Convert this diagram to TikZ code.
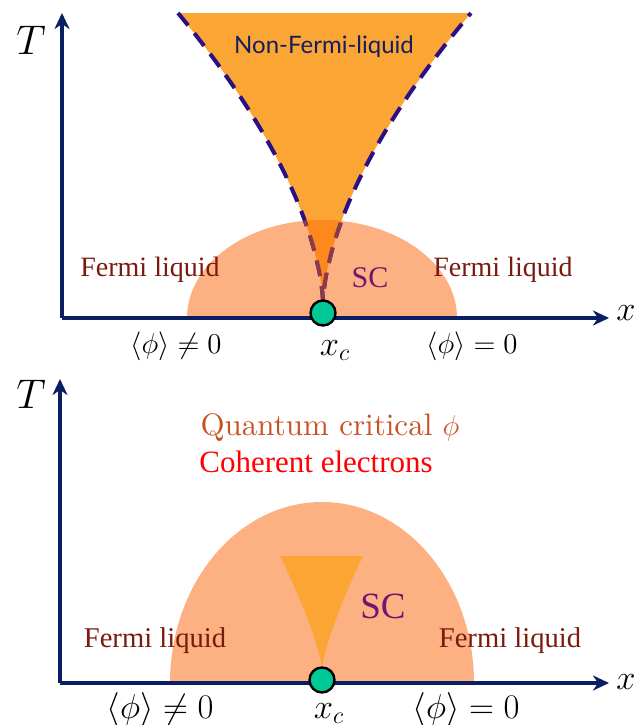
\documentclass[tikz,border=0pt]{standalone}
\usepackage{fontspec}
\newfontfamily\tnr{Liberation Serif}
\newfontfamily\nflsans{Lato}
\newfontfamily\lmten{lmroman10-regular}[Extension=.otf]
\usetikzlibrary{arrows.meta}
\usepackage{xcolor}

\definecolor{axisnavy}{RGB}{10,30,100}
\definecolor{nflorange}{RGB}{250,165,52}
\definecolor{domesalmon}{RGB}{253,177,130}
\definecolor{overlaporange}{RGB}{253,137,30}
\definecolor{dashindigo}{RGB}{42,15,133}
\definecolor{dashbrown}{RGB}{140,58,74}
\definecolor{qcpgreen}{RGB}{0,200,150}
\definecolor{flred}{RGB}{122,26,14}
\definecolor{scpurple}{RGB}{110,22,112}
\definecolor{qcbrown}{RGB}{200,82,34}
\definecolor{nflnavy}{RGB}{20,30,90}

\begin{document}
\begin{tikzpicture}[
    x=0.5pt, y=-0.5pt,
    axis/.style={line width=2pt, axisnavy, -{Stealth[length=8pt,width=7.5pt,inset=2.5pt]}},
    nfldash/.style={line width=2pt, dash pattern=on 8pt off 5pt},
    qcp/.style={circle, draw=black, line width=1.2pt, fill=qcpgreen, minimum size=12.5pt, inner sep=0pt},
    fermi/.style={text=flred, anchor=base, font=\tnr\fontsize{14}{16}\selectfont},
    sclabel/.style={text=scpurple, anchor=base},
    axlabel/.style={font=\fontsize{21}{23}\selectfont},
    phaselabel/.style={anchor=base, font=\fontsize{15}{17}\selectfont},
  ]
  \useasboundingbox (0,0) rectangle (636,725);

  % ========= TOP: NON-FERMI-LIQUID =========
  \coordinate (originA) at (62,318);
  \coordinate (ytipA) at (62,13);
  \coordinate (xtipA) at (609,318);

  % SC dome
  \fill[domesalmon] (187,318) arc[start angle=180, end angle=360, x radius=135, y radius=98] -- cycle;

  % Non-Fermi-liquid fan
  \fill[nflorange] (323,303)
    -- plot[domain=0.01:1, samples=40] ({323-145*\x^1.65}, {303-290*\x})
    -- plot[domain=1:0.01, samples=40] ({323+148*\x^1.65}, {303-290*\x}) -- cycle;
  \draw[nfldash, dashindigo]
    plot[domain=1:0.01, samples=40] ({323-145*\x^1.65}, {303-290*\x})
    -- plot[domain=0.01:1, samples=40] ({323+148*\x^1.65}, {303-290*\x});

  % overlap of fan and dome
  \begin{scope}
    \clip (187,318) arc[start angle=180, end angle=360, x radius=135, y radius=98] -- cycle;
    \fill[overlaporange] (323,303)
      -- plot[domain=0.01:1, samples=40] ({323-145*\x^1.65}, {303-290*\x})
      -- plot[domain=1:0.01, samples=40] ({323+148*\x^1.65}, {303-290*\x}) -- cycle;
    \draw[nfldash, dashbrown]
      plot[domain=1:0.01, samples=40] ({323-145*\x^1.65}, {303-290*\x})
      -- plot[domain=0.01:1, samples=40] ({323+148*\x^1.65}, {303-290*\x});
  \end{scope}

  % axes
  \draw[axis] (originA) -- (ytipA);
  \draw[axis] (originA) -- (xtipA);
  \node[qcp] (qcpA) at (323,313) {};

  \node[axlabel] (TA) at (31,40) {$T$};
  \node[axlabel, font=\fontsize{19}{21}\selectfont] (xA) at (626,313) {$x$};
  \node[text=nflnavy, font=\nflsans\fontsize{12}{14}\selectfont] (nflA) at (324,47) {Non-Fermi-liquid};
  \node[fermi] (flleftA) at (150,276) {Fermi liquid};
  \node[fermi] (flrightA) at (503,276) {Fermi liquid};
  \node[sclabel, font=\tnr\fontsize{15}{17}\selectfont] (scA) at (370,287) {SC};
  \node[phaselabel] (orderA) at (176,353) {$\langle\phi\rangle \neq 0$};
  \node[phaselabel, font=\fontsize{18}{20}\selectfont] (xcA) at (335,355) {$x_c$};
  \node[phaselabel] (disorderA) at (472,353) {$\langle\phi\rangle = 0$};

  % ========= BOTTOM: QUANTUM CRITICAL =========
  \coordinate (originB) at (60,683);
  \coordinate (ytipB) at (60,379);
  \coordinate (xtipB) at (609,683);

  % SC dome
  \fill[domesalmon] (170,683) arc[start angle=180, end angle=360, x radius=152, y radius=181] -- cycle;

  % SC fan
  \fill[nflorange] (322,668)
    -- plot[domain=0.01:1, samples=40] ({322-42*\x^1.3}, {668-112*\x})
    -- plot[domain=1:0.01, samples=40] ({322+41*\x^1.3}, {668-112*\x}) -- cycle;

  % axes
  \draw[axis] (originB) -- (ytipB);
  \draw[axis] (originB) -- (xtipB);
  \node[qcp] (qcpB) at (322,680) {};

  \node[axlabel] (TB) at (31,394) {$T$};
  \node[axlabel, font=\fontsize{19}{21}\selectfont] (xB) at (626,682) {$x$};
  \node[anchor=base, text=qcbrown, font=\lmten\fontsize{15.5}{18}\selectfont] (qcB) at (330,435) {Quantum critical $\phi$};
  \node[anchor=base, text=red, font=\tnr\fontsize{15.5}{18}\selectfont] (cohB) at (316,472) {Coherent electrons};
  \node[sclabel, font=\tnr\fontsize{18.5}{20}\selectfont] (scB) at (383,618) {SC};
  \node[fermi, font=\tnr\fontsize{14.3}{16}\selectfont] (flleftB) at (155,647) {Fermi liquid};
  \node[fermi, font=\tnr\fontsize{14.3}{16}\selectfont] (flrightB) at (510,647) {Fermi liquid};
  \node[phaselabel, font=\fontsize{16}{18}\selectfont] (orderB) at (160,718) {$\langle\phi\rangle \neq 0$};
  \node[phaselabel, font=\fontsize{18}{20}\selectfont] (xcB) at (329,718) {$x_c$};
  \node[phaselabel, font=\fontsize{16}{18}\selectfont] (disorderB) at (466,718) {$\langle\phi\rangle = 0$};
\end{tikzpicture}
\end{document}
